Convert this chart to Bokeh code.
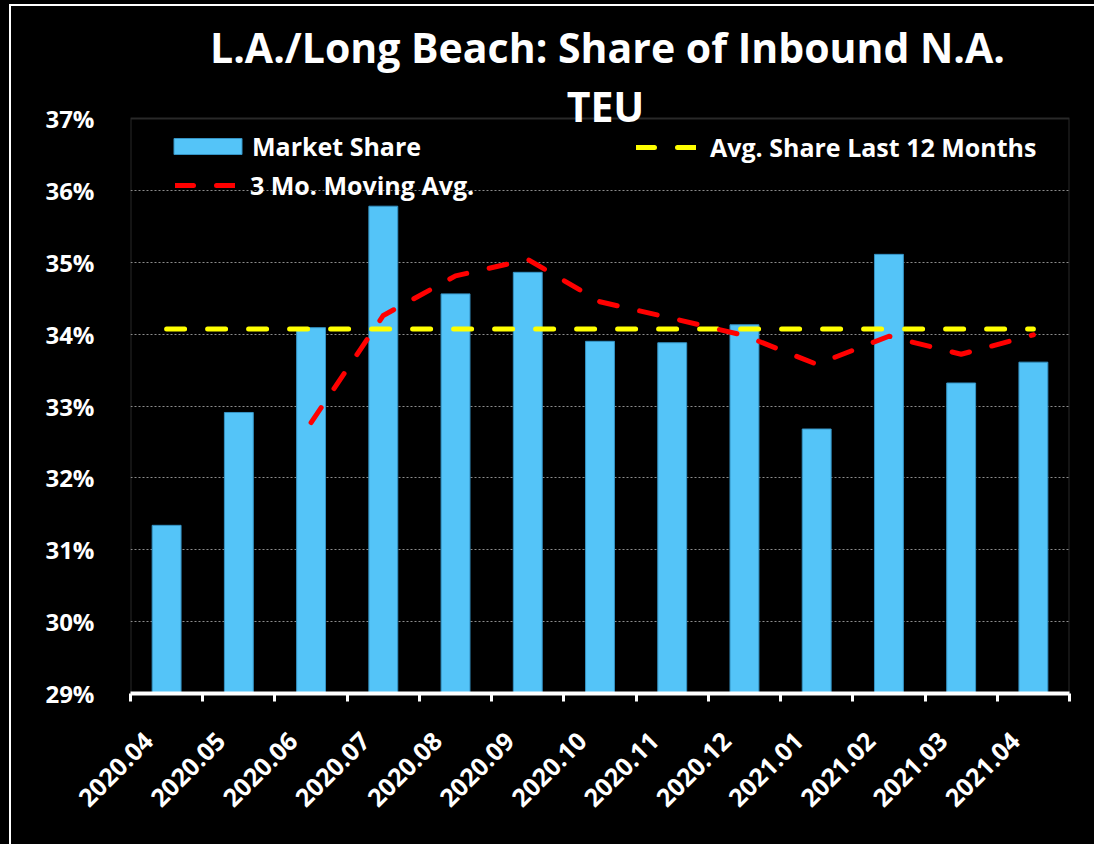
import math
from bokeh.plotting import figure
from bokeh.models import FixedTicker, Legend, LegendItem, Label, Range1d, BoxAnnotation
from bokeh.embed import file_html
from bokeh.resources import INLINE

# ---------------- data ----------------
months = ["2020.04", "2020.05", "2020.06", "2020.07", "2020.08", "2020.09", "2020.10",
          "2020.11", "2020.12", "2021.01", "2021.02", "2021.03", "2021.04"]
market_share = [31.34, 32.91, 34.09, 35.78, 34.56, 34.86, 33.90,
                33.88, 34.13, 32.68, 35.11, 33.32, 33.61]
moving_avg_months = ["2020.06", "2020.07", "2020.08", "2020.09", "2020.10", "2020.11",
                     "2020.12", "2021.01", "2021.02", "2021.03", "2021.04"]
moving_avg_3mo = [32.77, 34.26, 34.81, 35.04, 34.45, 34.22, 33.98, 33.58, 33.97, 33.72, 33.99]
avg_share_12mo = 34.07
y_ticks = [29, 30, 31, 32, 33, 34, 35, 36, 37]
y_tick_labels = ["29%", "30%", "31%", "32%", "33%", "34%", "35%", "36%", "37%"]
title_lines = ["L.A./Long Beach: Share of Inbound N.A.", "TEU"]
legend_labels = ["Market Share", "3 Mo. Moving Avg.", "Avg. Share Last 12 Months"]

FONT = "Open Sans"
BAR_COLOR = "#54C4F8"
BAR_EDGE = "#3593C4"
FRAME_COLOR = "#888888"

idx = list(range(len(months)))
ma_idx = [months.index(m) for m in moving_avg_months]

# layout (canvas pixels)
W, H = 1094, 844
LEFT, RIGHT, BOTTOM = 130, 25, 151
TOP_BOX = 118                       # where the 37% line (box top) sits from canvas top
frame_h = H - BOTTOM                # the frame reaches the top of the canvas
box_h = frame_h - TOP_BOX
y_top = y_ticks[-1] + TOP_BOX * (y_ticks[-1] - y_ticks[0]) / box_h

p = figure(width=W, height=H, output_backend="svg", toolbar_location=None,
           x_range=Range1d(-0.5, len(months) - 0.5), y_range=Range1d(y_ticks[0], y_top),
           min_border_left=LEFT, min_border_right=RIGHT, min_border_top=0, min_border_bottom=BOTTOM,
           background_fill_alpha=0, border_fill_alpha=0)
p.outline_line_color = None
# black slide background with the thin white slide border at top and left
p.styles = {
    "background-color": "#000000",
    "background-image": "linear-gradient(#ffffff, #ffffff), linear-gradient(#ffffff, #ffffff)",
    "background-size": "2px 100%, 100% 2px",
    "background-position": "9px 4px, 9px 4px",
    "background-repeat": "no-repeat",
}

# grey plot-area box
p.add_layout(BoxAnnotation(left=-0.5, right=len(months) - 0.5, bottom=y_ticks[0], top=y_ticks[-1],
                           fill_alpha=0, line_color=FRAME_COLOR, line_width=2, level="underlay"))

# grid
p.xgrid.visible = False
p.ygrid.ticker = FixedTicker(ticks=y_ticks[1:-1])
p.ygrid.grid_line_color = "#8c8c8c"
p.ygrid.grid_line_dash = "2 2"
p.ygrid.grid_line_width = 1

# y axis
p.yaxis.ticker = FixedTicker(ticks=y_ticks)
p.yaxis.major_label_overrides = {t: l for t, l in zip(y_ticks, y_tick_labels)}
p.yaxis.axis_line_color = None
p.yaxis.major_tick_line_color = None
p.yaxis.minor_tick_line_color = None
p.yaxis.major_label_standoff = 30
p.yaxis.major_label_text_font = FONT
p.yaxis.major_label_text_font_size = "24px"
p.yaxis.major_label_text_font_style = "bold"
p.yaxis.major_label_text_color = "white"

# x axis: tick marks at category boundaries, labels near centres
label_shift = 0.25
p.xaxis.ticker = FixedTicker(ticks=[i - label_shift for i in idx],
                             minor_ticks=[i - 0.5 for i in range(len(months) + 1)])
p.xaxis.major_label_overrides = {i - label_shift: m for i, m in zip(idx, months)}
p.xaxis.axis_line_color = "white"
p.xaxis.axis_line_width = 4
p.xaxis.major_tick_out = 0
p.xaxis.major_tick_in = 0
p.xaxis.minor_tick_out = 8
p.xaxis.minor_tick_in = 0
p.xaxis.minor_tick_line_color = "white"
p.xaxis.minor_tick_line_width = 3
p.xaxis.major_label_orientation = math.pi / 4
p.xaxis.major_label_standoff = 35
p.xaxis.major_label_text_font = FONT
p.xaxis.major_label_text_font_size = "25px"
p.xaxis.major_label_text_font_style = "bold"
p.xaxis.major_label_text_color = "white"

# glyphs
bars = p.vbar(x=idx, top=market_share, bottom=y_ticks[0], width=0.4,
              fill_color=BAR_COLOR, line_color=BAR_EDGE, line_width=1)
avg_line = p.line(x=idx, y=[avg_share_12mo] * len(idx), line_color="#FFFF00",
                  line_width=5, line_dash="18 23", line_cap="round")
ma_line = p.line(x=ma_idx, y=moving_avg_3mo, line_color="#FF0000",
                 line_width=5, line_dash="18 23", line_cap="round", line_join="round")


def make_legend(item, renderer, loc, gw, gh, standoff):
    leg = Legend(items=[LegendItem(label=item, renderers=[renderer])], location=loc,
                 glyph_width=gw, glyph_height=gh, label_standoff=standoff,
                 label_height=gh, padding=0, margin=0, spacing=0,
                 background_fill_alpha=0, border_line_color=None,
                 label_text_font=FONT, label_text_font_size="25px",
                 label_text_font_style="bold", label_text_color="white")
    p.add_layout(leg)
    return leg


make_legend(legend_labels[0], bars, (35, 530), 85, 20, 2)
make_legend(legend_labels[1], ma_line, (45, 491), 60, 20, 15)
make_legend(legend_labels[2], avg_line, (506, 529), 60, 20, 14)

# title (screen units, measured from the frame's bottom-left corner)
p.add_layout(Label(x=477, y=frame_h - 46, x_units="screen", y_units="screen", text=title_lines[0],
                   text_align="center", text_baseline="alphabetic", text_font=FONT,
                   text_font_size="41px", text_font_style="bold", text_color="white"))
p.add_layout(Label(x=475, y=frame_h - 105, x_units="screen", y_units="screen", text=title_lines[1],
                   text_align="center", text_baseline="alphabetic", text_font=FONT,
                   text_font_size="41px", text_font_style="bold", text_color="white"))

html = file_html(p, INLINE)
html = html.replace("<body>", '<body style="background-color:#000000;">', 1)
open("out.html", "w").write(html)
